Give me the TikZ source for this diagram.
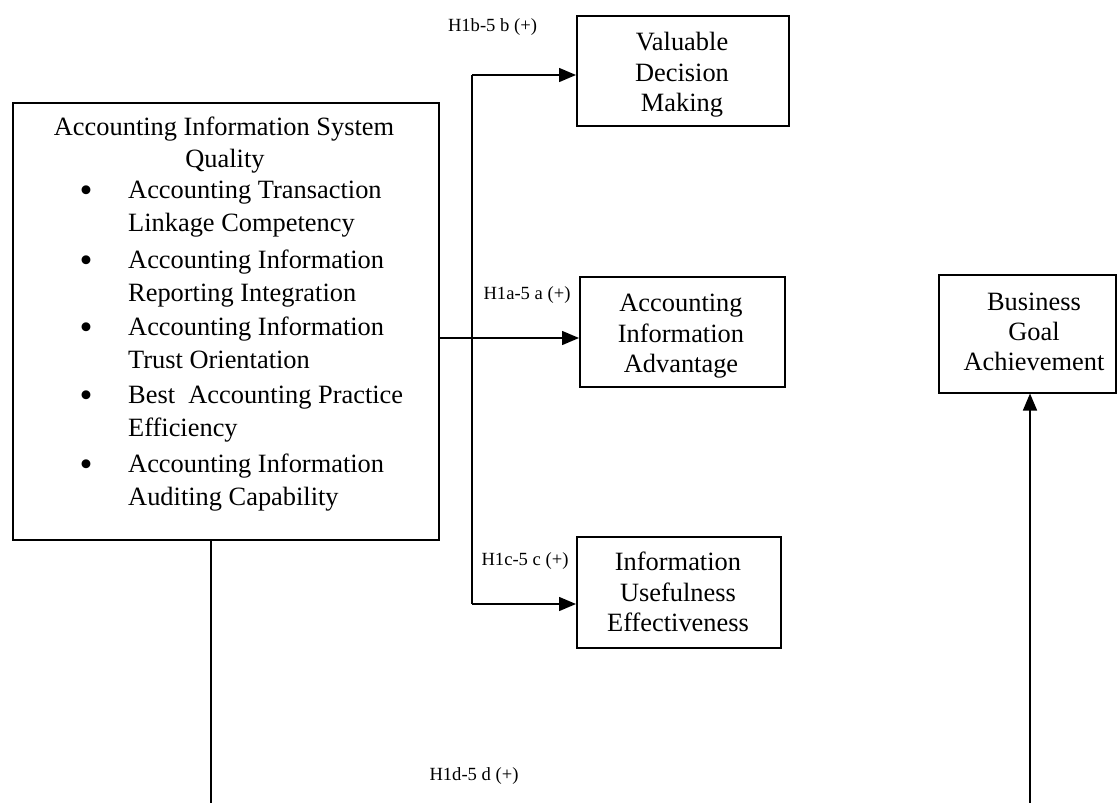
\documentclass[tikz,border=0pt]{standalone}
\usepackage{fontspec}
\setmainfont{Liberation Serif}
\usetikzlibrary{arrows.meta}
\newcommand\mainsz{\fontsize{26.4}{31}\selectfont}
\newcommand\labsz{\fontsize{18.6}{22}\selectfont}
\newcommand\bulsz{\fontsize{37}{37}\selectfont}
\begin{document}
\begin{tikzpicture}[x=1pt,y=-1pt,
  box/.style={draw,line width=1.5pt,inner sep=0pt,anchor=north west},
  conn/.style={line width=1.5pt},
  arr/.style={conn,-{Triangle[length=17pt,width=14pt]}},
  txt/.style={font=\mainsz,inner sep=0pt,anchor=base},
  bul/.style={font=\bulsz,inner sep=0pt,anchor=base},
  itm/.style={font=\mainsz,inner sep=0pt,anchor=base west},
  lab/.style={font=\labsz,inner sep=0pt}]
\useasboundingbox (0,0) rectangle (1117,803);

% boxes
\node[box,minimum width=426pt,minimum height=437pt] (aisq) at (12,102) {};
\node[box,minimum width=212pt,minimum height=110pt] (vdm) at (576,15) {};
\node[box,minimum width=205pt,minimum height=110pt] (aia) at (579,276) {};
\node[box,minimum width=204pt,minimum height=111pt] (iue) at (576,536) {};
\node[box,minimum width=177pt,minimum height=118pt] (bga) at (938,274) {};

% left box text
\node[txt] (h1) at (224,135) {Accounting Information System};
\node[txt] (h2) at (225,167) {Quality};
\foreach \y/\a/\b [count=\i] in {198/Accounting Transaction/Linkage Competency,
  268/Accounting Information/Reporting Integration,
  335/Accounting Information/Trust Orientation,
  403/Best\ \ Accounting Practice/Efficiency,
  472/Accounting Information/Auditing Capability}{
  \node[bul] (bu\i) at (86,\y+4) {•};
  \node[itm] (ia\i) at (128,\y) {\a};
  \node[itm] (ib\i) at (128,\y+33.5) {\b};
}

% right box texts
\node[txt] (v1) at (682,50) {Valuable};
\node[txt] (v2) at (682,81) {Decision};
\node[txt] (v3) at (682,111) {Making};
\node[txt] (a1) at (681,311) {Accounting};
\node[txt] (a2) at (681,342) {Information};
\node[txt] (a3) at (681,372) {Advantage};
\node[txt] (u1) at (678,570) {Information};
\node[txt] (u2) at (678,601) {Usefulness};
\node[txt] (u3) at (678,631) {Effectiveness};
\node[txt] (g1) at (1034,310) {Business};
\node[txt] (g2) at (1034,340) {Goal};
\node[txt] (g3) at (1034,370) {Achievement};

% labels
\node[lab] (lb) at (492.5,27.5) {H1b-5 b (+)};
\node[lab] (la) at (527,295) {H1a-5 a (+)};
\node[lab] (lc) at (525,561) {H1c-5 c (+)};
\node[lab] (ld) at (474,776) {H1d-5 d (+)};

% connectors
\coordinate (bt) at (472,75);
\coordinate (bb) at (472,604);
\coordinate (ha) at (472,338);
\coordinate (dl) at (211,803);
\coordinate (dr) at (1030,803);
\draw[conn] (bt) -- (bb);
\draw[arr] (bt) -- (vdm.west |- bt);
\draw[arr] (bb) -- (iue.west |- bb);
\draw[arr] (aisq.east |- ha) -- (aia.west |- ha);
\draw[conn] (aisq.south -| dl) -- (dl);
\draw[arr] (dr) -- (bga.south -| dr);
\end{tikzpicture}
\end{document}
